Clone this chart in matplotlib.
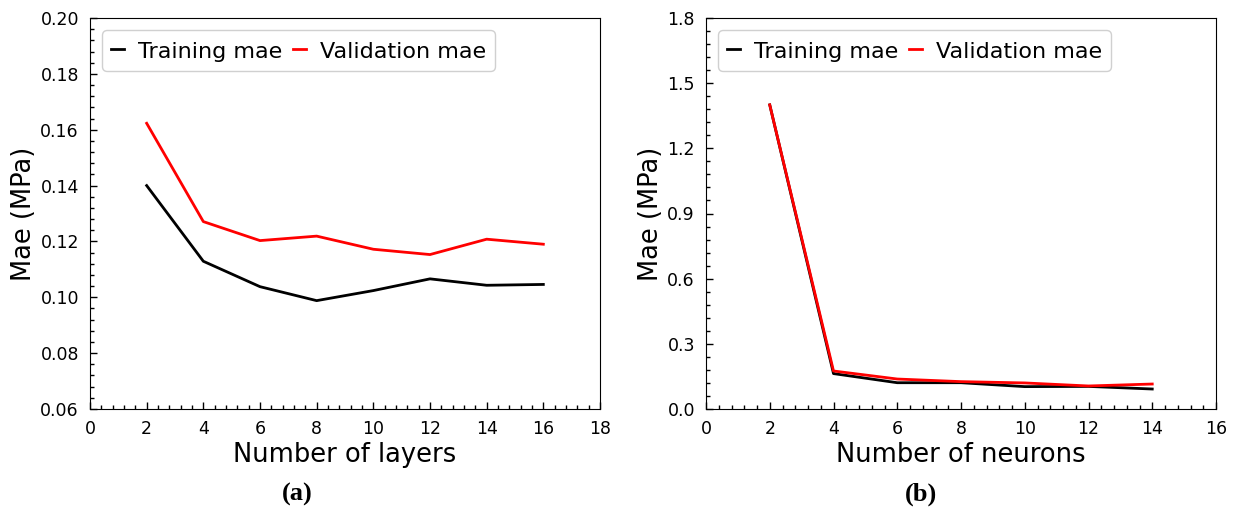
import matplotlib
matplotlib.use("Agg")
import matplotlib.pyplot as plt
from matplotlib.ticker import AutoMinorLocator, MultipleLocator, FormatStrFormatter

# panel (a): number of layers
layers = [2, 4, 6, 8, 10, 12, 14, 16]
train_layers = [0.140, 0.1129, 0.1038, 0.0988, 0.1024, 0.1066, 0.1043, 0.1046]
val_layers = [0.1623, 0.1271, 0.1203, 0.1219, 0.1172, 0.1153, 0.1208, 0.1190]

# panel (b): number of neurons
neurons = [2, 4, 6, 8, 10, 12, 14]
train_neurons = [1.40, 0.163, 0.121, 0.121, 0.103, 0.104, 0.092]
val_neurons = [1.40, 0.175, 0.138, 0.126, 0.120, 0.106, 0.115]

fig = plt.figure(figsize=(12.33, 5.12), dpi=100)
ax1 = fig.add_axes([90/1233, 1-409/512, 510/1233, 391/512])
ax2 = fig.add_axes([706/1233, 1-409/512, 510/1233, 391/512])


def style(ax, x, tr, va, xlabel, xmax, ylim, ymajor, fmt):
    ax.plot(x, tr, color='black', lw=2, label='Training mae')
    ax.plot(x, va, color='red', lw=2, label='Validation mae')
    ax.set_xlim(0, xmax)
    ax.set_ylim(*ylim)
    ax.xaxis.set_major_locator(MultipleLocator(2))
    ax.yaxis.set_major_locator(MultipleLocator(ymajor))
    ax.yaxis.set_major_formatter(FormatStrFormatter(fmt))
    ax.xaxis.set_minor_locator(AutoMinorLocator(5))
    ax.yaxis.set_minor_locator(AutoMinorLocator(5))
    ax.tick_params(which='both', direction='in', labelsize=12.5, pad=8)
    ax.tick_params(which='major', length=5, width=1)
    ax.tick_params(which='minor', length=3, width=1)
    ax.set_xlabel(xlabel, fontsize=18.5, labelpad=3)
    ax.set_ylabel('Mae (MPa)', fontsize=18.5, labelpad=2)
    ax.legend(loc='upper left', ncol=2, fontsize=16, handlelength=0.6,
              handleheight=1.2, handletextpad=0.6, columnspacing=0.5,
              borderaxespad=0.55, borderpad=0.4, framealpha=1,
              edgecolor='#d0d0d0')


style(ax1, layers, train_layers, val_layers, 'Number of layers', 18,
      (0.06, 0.20), 0.02, '%.2f')
style(ax2, neurons, train_neurons, val_neurons, 'Number of neurons', 16,
      (0.0, 1.8), 0.3, '%.1f')

fig.text(297/1233, 1-494/512, '(a)', ha='center', va='center',
         family='Liberation Serif', weight='bold', fontsize=19)
fig.text(921/1233, 1-494/512, '(b)', ha='center', va='center',
         family='Liberation Serif', weight='bold', fontsize=19)

fig.savefig('out.png', dpi=100, facecolor='white')
